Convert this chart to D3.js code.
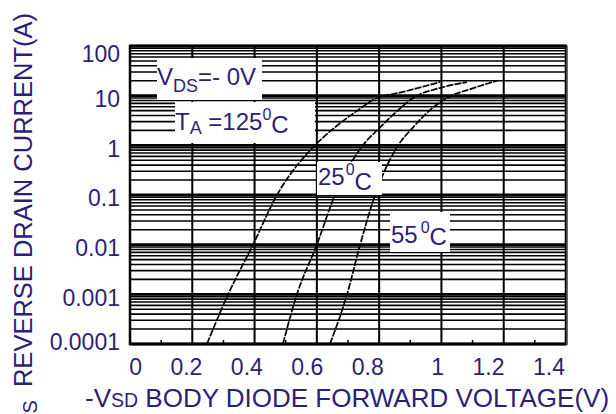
<!DOCTYPE html>
<html>
<head>
<meta charset="utf-8">
<script src="https://cdn.jsdelivr.net/npm/d3@7"></script>
<style>
  body { margin: 0; background: #fff; }
  svg { display: block; font-family: "Liberation Sans", Arial, sans-serif; }
  .lbl { fill: #2d1e78; }
</style>
</head>
<body>
<svg id="chart" width="616" height="414"></svg>
<script>
// tick values and labels
var xTickValues = [0, 0.2, 0.4, 0.6, 0.8, 1.0, 1.2, 1.4];
var xTickLabels = ["0", "0.2", "0.4", "0.6", "0.8", "1", "1.2", "1.4"];
var xMinorTicks = [0.1, 0.3, 0.5, 0.7, 0.9, 1.1, 1.3];
var yTickValues = [0.0001, 0.001, 0.01, 0.1, 1, 10, 100];
var yTickLabels = ["0.0001", "0.001", "0.01", "0.1", "1", "10", "100"];

// curves: voltage (V) and current (A)
var v125 = [0.247, 0.315, 0.395, 0.472, 0.594, 0.658, 0.732, 0.780, 0.877, 0.996];
var i125 = [0.0001, 0.001, 0.01, 0.1, 1, 2.3, 5.1, 8.2, 11.9, 18.8];
var v25 = [0.491, 0.536, 0.600, 0.658, 0.748, 0.803, 0.861, 0.909, 0.99, 1.082];
var i25 = [0.0001, 0.001, 0.01, 0.1, 1, 2.3, 5.1, 9, 14, 18.8];
var v55 = [0.642, 0.697, 0.739, 0.787, 0.861, 0.909, 0.963, 1.018, 1.10, 1.179];
var i55 = [0.0001, 0.001, 0.01, 0.1, 1, 2.3, 5.1, 9, 14, 20];

var svg = d3.select("#chart");

var x = d3.scaleLinear().domain([0, 1.4]).range([130, 566]);
var y = d3.scaleLog().domain([1e-4, 100]).range([344, 46]);
// labels on the x axis sit right-aligned and a bit tighter than the grid
var xLab = d3.scaleLinear().domain([0, 1.4]).range([142, 565]);

// horizontal grid, 1..9 in each decade
var grid = svg.append("g");
y.ticks().forEach(function (v) {
    var major = Math.abs(Math.log10(v) - Math.round(Math.log10(v))) < 1e-9;
    grid.append("line")
        .attr("x1", x(0)).attr("x2", x(1.4))
        .attr("y1", y(v)).attr("y2", y(v))
        .attr("stroke", "#000")
        .attr("stroke-width", major ? 2.8 : 1.6);
});

// vertical grid
xTickValues.forEach(function (v) {
    grid.append("line")
        .attr("x1", x(v)).attr("x2", x(v))
        .attr("y1", y(100)).attr("y2", y(1e-4))
        .attr("stroke", "#000")
        .attr("stroke-width", 2);
});

// small ticks on the bottom edge
xMinorTicks.forEach(function (v) {
    grid.append("line")
        .attr("x1", x(v)).attr("x2", x(v))
        .attr("y1", y(1e-4)).attr("y2", y(1e-4) - 4)
        .attr("stroke", "#000")
        .attr("stroke-width", 1.5);
});

// frame
svg.append("rect")
    .attr("x", x(0)).attr("y", y(100))
    .attr("width", x(1.4) - x(0)).attr("height", y(1e-4) - y(100))
    .attr("fill", "none").attr("stroke", "#000").attr("stroke-width", 2.5);
svg.append("line")
    .attr("x1", x(1.4) + 1).attr("x2", x(1.4) + 1)
    .attr("y1", y(100)).attr("y2", y(1e-4) + 1)
    .attr("stroke", "#555").attr("stroke-width", 1.5);

// curves
var line = d3.line()
    .x(function (d) { return x(d[0]); })
    .y(function (d) { return y(d[1]); })
    .curve(d3.curveMonotoneX);

[[v125, i125], [v25, i25], [v55, i55]].forEach(function (c) {
    svg.append("path")
        .datum(d3.zip(c[0], c[1]))
        .attr("d", line)
        .attr("fill", "none")
        .attr("stroke", "#000")
        .attr("stroke-width", 1.7)
        .attr("stroke-dasharray", "7,1.2");
});

// annotation boxes
function box(x0, y0, w, h) {
    svg.append("rect")
        .attr("x", x0).attr("y", y0).attr("width", w).attr("height", h)
        .attr("fill", "#fff");
}
box(157, 58, 105, 42);
box(175, 102, 140, 41);
box(317, 162, 65, 33);
box(390, 212, 60, 40);

var t = svg.append("text").attr("class", "lbl").attr("x", 157).attr("y", 85)
    .attr("font-size", 24);
t.append("tspan").text("V");
t.append("tspan").attr("font-size", 18).attr("dy", 7).text("DS");
t.append("tspan").attr("dy", -7).text("=- 0V");

t = svg.append("text").attr("class", "lbl").attr("x", 175).attr("y", 130)
    .attr("font-size", 24);
t.append("tspan").text("T");
t.append("tspan").attr("font-size", 18).attr("dy", 4).text("A");
t.append("tspan").attr("dy", -4).text(" =125");
t.append("tspan").attr("font-size", 16).attr("dy", -10).text("0");
t.append("tspan").attr("dy", 13).text("C");

t = svg.append("text").attr("class", "lbl").attr("x", 318).attr("y", 185)
    .attr("font-size", 24);
t.append("tspan").text("25");
t.append("tspan").attr("font-size", 16).attr("dy", -10).attr("dx", 1).text("0");
t.append("tspan").attr("dy", 15).text("C");

t = svg.append("text").attr("class", "lbl").attr("x", 391).attr("y", 243)
    .attr("font-size", 24);
t.append("tspan").text("55");
t.append("tspan").attr("font-size", 16).attr("dy", -10).attr("dx", 3).text("0");
t.append("tspan").attr("dy", 12).text("C");

// x tick labels
xTickValues.forEach(function (v, k) {
    svg.append("text").attr("class", "lbl")
        .attr("x", xLab(v)).attr("y", 375)
        .attr("text-anchor", "end")
        .attr("font-size", 23)
        .text(xTickLabels[k]);
});

// y tick labels
yTickValues.forEach(function (v, k) {
    var cy = Math.min(342, Math.max(54, y(v) + 3));
    svg.append("text").attr("class", "lbl")
        .attr("x", 120).attr("y", cy)
        .attr("dy", "0.36em")
        .attr("text-anchor", "end")
        .attr("font-size", 23)
        .text(yTickLabels[k]);
});

// x title
t = svg.append("text").attr("class", "lbl").attr("x", 85).attr("y", 407)
    .attr("font-size", 26);
t.append("tspan").text("-V");
t.append("tspan").attr("font-size", 19.5).text("SD");
t.append("tspan").text(" BODY DIODE FORWARD VOLTAGE(V)");

// y title, runs off the bottom edge like the original
t = svg.append("text").attr("class", "lbl")
    .attr("transform", "translate(32,13) rotate(-90)")
    .attr("text-anchor", "end")
    .attr("font-size", 25.5);
t.append("tspan").text("I");
t.append("tspan").attr("font-size", 20).attr("dy", 5).text("S");
t.append("tspan").attr("dy", -5).attr("dx", 6).text(" REVERSE DRAIN CURRENT(A)");
</script>
</body>
</html>
